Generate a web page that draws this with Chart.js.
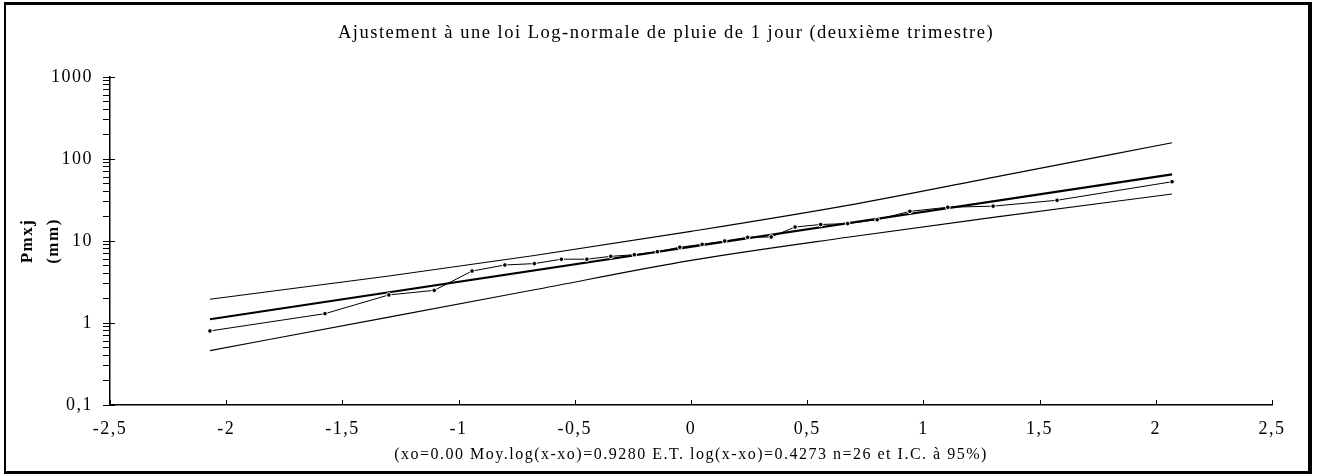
<!DOCTYPE html>
<html>
<head>
<meta charset="utf-8">
<script src="https://cdn.jsdelivr.net/npm/chart.js@4.4.1/dist/chart.umd.min.js"></script>
<style>
html, body { margin:0; padding:0; background:#fff; }
</style>
</head>
<body>
<canvas id="myChart" width="1317" height="474"></canvas>
<script>
// valeurs
var quantiles = [-2.07, -1.575, -1.30, -1.105, -0.942, -0.801, -0.674, -0.558, -0.448, -0.345, -0.244, -0.145, -0.048,
                 0.048, 0.145, 0.244, 0.345, 0.448, 0.558, 0.674, 0.801, 0.942, 1.105, 1.30, 1.575, 2.07];
var pluie = [0.8, 1.3, 2.2, 2.5, 4.3, 5.1, 5.3, 6.0, 6.0, 6.5, 6.8, 7.4, 8.4,
             9.1, 10.0, 11.1, 11.2, 14.8, 15.9, 16.3, 18.2, 23.0, 25.8, 26.6, 31.4, 52.8];
var droiteX = [-2.07, 2.07];
var droiteY = [1.11, 65];
var bandeX = [-2.07, -1.30, -0.674, 0, 0.674, 1.30, 2.07];
var bandeSup = [1.95, 3.74, 6.65, 13.1, 27.2, 59.7, 158];
var bandeInf = [0.46, 1.18, 2.54, 5.8, 11.1, 19.4, 37.4];
var xTickLabels = ['-2,5', '-2', '-1,5', '-1', '-0,5', '0', '0,5', '1', '1,5', '2', '2,5'];
var yTickValues = [0.1, 1, 10, 100, 1000];
var yTickLabels = ['0,1', '1', '10', '100', '1000'];

var serif = "'Liberation Serif', 'Times New Roman', serif";

function toPoints(xs, ys){
    return xs.map(function(v, i){ return {x: v, y: ys[i]}; });
}

// cadre + petites graduations vers l'interieur
var cadre = {
    id: 'cadre',
    beforeDraw: function(chart){
        chart.ctx.letterSpacing = '1.5px';
    },
    afterDraw: function(chart){
        var ctx = chart.ctx;
        var xs = chart.scales.x, ys = chart.scales.y;
        ctx.save();
        ctx.fillStyle = '#000';
        ctx.fillRect(4, 2, 1308, 3);
        ctx.fillRect(4, 2, 2, 472);
        ctx.fillRect(1308, 2, 4, 472);
        ctx.fillRect(4, 471, 1308, 3);
        ctx.strokeStyle = '#000';
        ctx.lineWidth = 1;
        ctx.beginPath();
        xs.ticks.forEach(function(t){
            var px = Math.round(xs.getPixelForValue(t.value)) + 0.5;
            ctx.moveTo(px, xs.top);
            ctx.lineTo(px, xs.top - 5);
        });
        yTickValues.forEach(function(v){
            var py = Math.round(ys.getPixelForValue(v)) + 0.5;
            ctx.moveTo(ys.right, py);
            ctx.lineTo(ys.right + 5, py);
        });
        ctx.stroke();
        ctx.restore();
    }
};

new Chart("myChart", {
    type: "scatter",
    data: {
        datasets: [
            {
                data: toPoints(quantiles, pluie),
                showLine: true,
                borderColor: '#000',
                borderWidth: 1,
                pointRadius: 2.3,
                pointBackgroundColor: '#000',
                pointBorderColor: '#fff',
                pointBorderWidth: 1
            },
            {
                data: toPoints(droiteX, droiteY),
                showLine: true,
                borderColor: '#000',
                borderWidth: 2.2,
                pointRadius: 0
            },
            {
                data: toPoints(bandeX, bandeSup),
                showLine: true,
                borderColor: '#000',
                borderWidth: 1.1,
                pointRadius: 0,
                cubicInterpolationMode: 'monotone'
            },
            {
                data: toPoints(bandeX, bandeInf),
                showLine: true,
                borderColor: '#000',
                borderWidth: 1.1,
                pointRadius: 0,
                cubicInterpolationMode: 'monotone'
            }
        ]
    },
    options: {
        responsive: false,
        animation: false,
        layout: { padding: { left: 30, right: 15, top: 0, bottom: 0 } },
        plugins: {
            legend: { display: false },
            tooltip: { enabled: false },
            title: {
                display: true,
                text: 'Ajustement à une loi Log-normale de pluie de 1 jour (deuxième trimestre)',
                color: '#000',
                font: { family: serif, size: 18.5, weight: 'normal' },
                padding: { top: 22, bottom: 32.8 }
            }
        },
        scales: {
            x: {
                type: 'linear',
                min: -2.5,
                max: 2.5,
                ticks: {
                    stepSize: 0.5,
                    color: '#000',
                    padding: 13,
                    font: { family: serif, size: 18 },
                    maxRotation: 0,
                    autoSkip: false,
                    callback: function(v, i){ return xTickLabels[i]; }
                },
                grid: { display: true, drawOnChartArea: false, drawTicks: false },
                border: { display: true, color: '#000', width: 1.5 },
                title: {
                    display: true,
                    text: '(xo=0.00 Moy.log(x-xo)=0.9280 E.T. log(x-xo)=0.4273 n=26 et I.C. à 95%)',
                    color: '#000',
                    font: { family: serif, size: 16 },
                    padding: { top: 0, bottom: 10 }
                },
                afterFit: function(scale){ scale.height = 69; }
            },
            y: {
                type: 'logarithmic',
                min: 0.1,
                max: 1000,
                afterBuildTicks: function(scale){
                    var t = [];
                    yTickValues.forEach(function(v, i){
                        t.push({value: v});
                        if (i < yTickValues.length - 1) {
                            for (var m = 2; m < 10; m++) t.push({value: v * m});
                        }
                    });
                    scale.ticks = t;
                },
                ticks: {
                    color: '#000',
                    padding: 10,
                    autoSkip: false,
                    font: { family: serif, size: 18 },
                    callback: function(v){
                        var k = yTickValues.indexOf(v);
                        return k >= 0 ? yTickLabels[k] : '';
                    }
                },
                grid: { display: true, drawOnChartArea: false, drawTicks: true, tickLength: 7, tickColor: '#000', tickWidth: 1 },
                border: { display: true, color: '#000', width: 1.5 },
                title: {
                    display: true,
                    text: ['Pmxj', '(mm)'],
                    color: '#000',
                    font: { family: serif, size: 17, weight: 'bold', lineHeight: 1.55 },
                    padding: { top: -16, bottom: 0 }
                },
                afterFit: function(scale){ scale.width = 80; }
            },
            droite: {
                type: 'linear',
                position: 'right',
                ticks: { display: false },
                grid: { display: false },
                border: { display: false },
                afterFit: function(scale){ scale.width = 30; }
            }
        }
    },
    plugins: [cadre]
});
</script>
</body>
</html>
